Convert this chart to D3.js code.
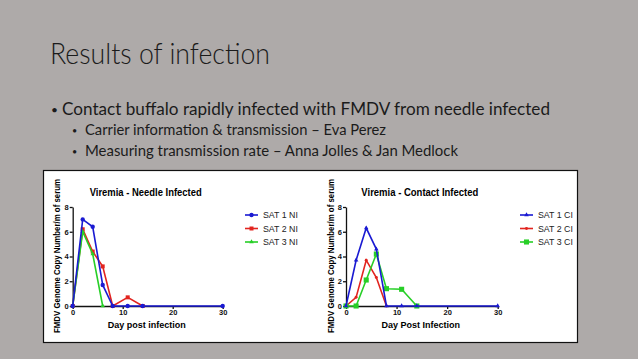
<!DOCTYPE html>
<meta charset="utf-8">
<script src="https://d3js.org/d3.v7.min.js"></script>
<style>
  body { margin: 0; background: #aeaaa9; }
  svg { display: block; }
</style>
<svg id="slide" width="638" height="359"></svg>
<script>

// slide text
var slideTitle = "Results of infection";
var bullets = [
  "Contact buffalo rapidly infected with FMDV from needle infected",
  "Carrier information & transmission \u2013 Eva Perez",
  "Measuring transmission rate  \u2013 Anna Jolles & Jan Medlock"
];

// chart data (null = no point on that day)
var days = [0, 2, 4, 6, 8, 11, 14, 30];
var needleSat1 = [0, 7.0, 6.4, 1.7, 0, 0, 0, 0];
var needleSat2 = [0, 6.2, 4.4, 3.2, 0, 0.7, 0, null];
var needleSat3 = [0, 6.0, 4.2, 0, null, null, null, null];
var contactSat1 = [0, 3.7, 6.3, 4.6, 0, 0, 0, 0];
var contactSat2 = [0, 0.7, 3.7, 2.3, 0, null, null, null];
var contactSat3 = [0, 0, 2.1, 4.2, 1.4, 1.35, 0, null];

var needleNames = ["SAT 1 NI", "SAT 2 NI", "SAT 3 NI"];
var contactNames = ["SAT 1 CI", "SAT 2 CI", "SAT 3 CI"];
var xTicks = [0, 10, 20, 30];
var yTicks = [0, 2, 4, 6, 8];

var colors = ["#1a1ad2", "#e2241f", "#27cf27"];

var svg = d3.select("#slide");

// slide heading and bullets
svg.append("text")
  .attr("x", 50).attr("y", 64)
  .attr("font-family", "Lato").attr("font-weight", 300)
  .attr("font-size", 29).attr("fill", "#1b1b1b")
  .attr("textLength", 220).attr("lengthAdjust", "spacingAndGlyphs")
  .text(slideTitle);

var bulletPos = [
  {bx: 51, x: 62, y: 115, size: 18, dot: 12, len: 488},
  {bx: 72, x: 85, y: 135, size: 15, dot: 9, len: 301},
  {bx: 72, x: 85, y: 156, size: 15, dot: 9, len: 373}
];
bulletPos.forEach(function(p, i) {
  svg.append("text")
    .attr("x", p.bx).attr("y", p.y - 1)
    .attr("font-family", "Lato").attr("font-size", p.dot).attr("fill", "#1b1b1b")
    .text("\u2022");
  svg.append("text")
    .attr("x", p.x).attr("y", p.y)
    .attr("font-family", "Lato").attr("font-size", p.size).attr("fill", "#1b1b1b")
    .attr("textLength", p.len).attr("lengthAdjust", "spacingAndGlyphs")
    .text(bullets[i]);
});

// white box holding the two graphs
svg.append("rect")
  .attr("x", 43.5).attr("y", 170.5)
  .attr("width", 534).attr("height", 172)
  .attr("fill", "white").attr("stroke", "#111").attr("stroke-width", 1.2);

function drawChart(opt) {
  var x = d3.scaleLinear().domain([0, 30]).range([opt.x0, opt.x1]);
  var y = d3.scaleLinear().domain([0, 8]).range([306, 207]);
  var g = svg.append("g").attr("font-family", "Liberation Sans");

  // title
  g.append("text")
    .attr("x", (opt.x0 + opt.x1) / 2 - 2).attr("y", 196)
    .attr("text-anchor", "middle").attr("font-weight", "bold").attr("font-size", 10)
    .attr("textLength", opt.titleLen).attr("lengthAdjust", "spacingAndGlyphs")
    .text(opt.title);

  // axes
  var xAxis = g.append("g")
    .attr("transform", "translate(0," + y(0) + ")")
    .call(d3.axisBottom(x).tickValues(xTicks).tickSize(3).tickSizeOuter(0).tickPadding(1));
  var yAxis = g.append("g")
    .attr("transform", "translate(" + x(0) + ",0)")
    .call(d3.axisLeft(y).tickValues(yTicks).tickSize(3).tickSizeOuter(0).tickPadding(1));
  [xAxis, yAxis].forEach(function(a) {
    a.selectAll("path, line").attr("stroke", "#111").attr("stroke-width", 1.3);
    a.selectAll("text").attr("font-family", "Liberation Sans")
      .attr("font-weight", "bold").attr("font-size", 7.5).attr("fill", "#111");
  });

  // axis labels
  g.append("text")
    .attr("x", x(15) - 1).attr("y", 328)
    .attr("text-anchor", "middle").attr("font-weight", "bold").attr("font-size", 9)
    .text(opt.xLabel);
  g.append("text")
    .attr("transform", "translate(" + opt.yLabelX + ",256) rotate(-90)")
    .attr("text-anchor", "middle").attr("font-weight", "bold").attr("font-size", 8.3)
    .attr("textLength", 154).attr("lengthAdjust", "spacingAndGlyphs")
    .text("FMDV Genome Copy Number/m of serum");

  var line = d3.line()
    .x(function(d) { return x(d[0]); })
    .y(function(d) { return y(d[1]); });

  // draw red, green, then blue on top
  [1, 2, 0].forEach(function(i) {
    var pts = days.map(function(d, j) { return [d, opt.series[i][j]]; })
      .filter(function(p) { return p[1] !== null; });
    g.append("path").datum(pts)
      .attr("fill", "none").attr("stroke", colors[i]).attr("stroke-width", 1.6)
      .attr("d", line);
    var sym = d3.symbol().type(opt.shapes[i]).size(opt.sizes[i]);
    g.selectAll(null).data(pts).enter().append("path")
      .attr("transform", function(p) { return "translate(" + x(p[0]) + "," + y(p[1]) + ")"; })
      .attr("fill", colors[i])
      .attr("d", sym);
  });

  // legend
  opt.names.forEach(function(name, i) {
    var ly = 215 + i * 13.5;
    var lx = opt.legendX;
    g.append("line")
      .attr("x1", lx).attr("x2", lx + 13).attr("y1", ly).attr("y2", ly)
      .attr("stroke", colors[i]).attr("stroke-width", 1.6);
    g.append("path")
      .attr("transform", "translate(" + (lx + 6.5) + "," + ly + ")")
      .attr("fill", colors[i])
      .attr("d", d3.symbol().type(opt.shapes[i]).size(opt.sizes[i])());
    g.append("text")
      .attr("x", lx + 18).attr("y", ly + 3)
      .attr("font-size", 8.8).attr("fill", "#222")
      .text(name);
  });
}

drawChart({
  x0: 72.7, x1: 222.7,
  title: "Viremia - Needle Infected", titleLen: 112,
  xLabel: "Day post infection",
  yLabelX: 60,
  series: [needleSat1, needleSat2, needleSat3],
  names: needleNames,
  shapes: [d3.symbolCircle, d3.symbolSquare, d3.symbolTriangle],
  sizes: [15, 16, 9],
  legendX: 245
});

drawChart({
  x0: 346, x1: 497.7,
  title: "Viremia - Contact Infected", titleLen: 117,
  xLabel: "Day Post Infection",
  yLabelX: 334,
  series: [contactSat1, contactSat2, contactSat3],
  names: contactNames,
  shapes: [d3.symbolTriangle, d3.symbolCircle, d3.symbolSquare],
  sizes: [9, 7, 26],
  legendX: 520
});

</script>
